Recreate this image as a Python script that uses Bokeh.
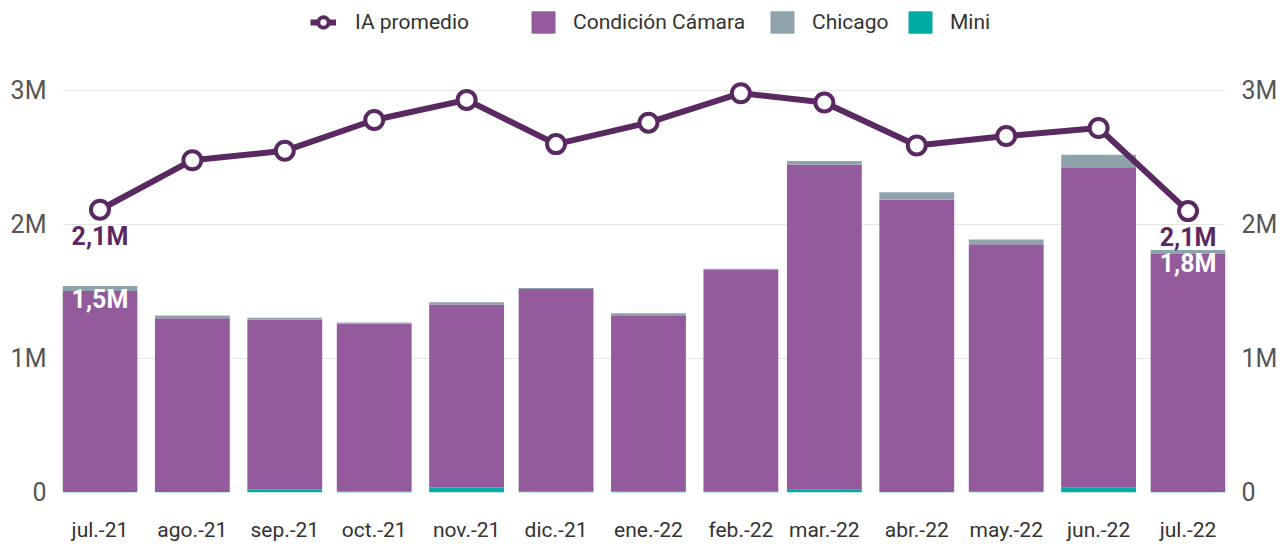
import pandas as pd
from bokeh.plotting import figure
from bokeh.models import (ColumnDataSource, Range1d, FixedTicker, LinearAxis,
                          Legend, LegendItem)
from bokeh.core.properties import value
from bokeh.embed import file_html
from bokeh.resources import INLINE

# ---------------- data ----------------
months = ["2021-07-01", "2021-08-01", "2021-09-01", "2021-10-01", "2021-11-01",
          "2021-12-01", "2022-01-01", "2022-02-01", "2022-03-01", "2022-04-01",
          "2022-05-01", "2022-06-01", "2022-07-01"]
month_labels = ["jul.-21", "ago.-21", "sep.-21", "oct.-21", "nov.-21", "dic.-21",
                "ene.-22", "feb.-22", "mar.-22", "abr.-22", "may.-22", "jun.-22",
                "jul.-22"]
mini = [3000, 4000, 22000, 7000, 37000, 6000, 6000, 6000, 20000, 12000, 5000, 35000, 4000]
camara = [1500000, 1296000, 1268000, 1252000, 1366000, 1513000, 1316000, 1657000,
          2428000, 2172000, 1848000, 2393000, 1776000]
chicago = [38000, 21000, 14000, 9000, 17000, 7000, 15000, 6000, 25000, 57000,
           35000, 92000, 30000]
ia_promedio = [2110000, 2480000, 2550000, 2780000, 2930000, 2600000, 2760000,
               2980000, 2910000, 2590000, 2660000, 2720000, 2100000]
y_ticks = [0, 1000000, 2000000, 3000000]
y_tick_labels = ["0", "1M", "2M", "3M"]

# ---------------- styling ----------------
C_CAM = "#935b9b"
C_CHI = "#8fa3ab"
C_MINI = "#00aba5"
C_LINE = "#5a2962"
FONT = "Roboto"

dates = pd.to_datetime(months)
DAY = 86400000
bar_w = 25.1 * DAY

bottom_cam = [m for m in mini]
top_cam = [m + c for m, c in zip(mini, camara)]
top_chi = [t + h for t, h in zip(top_cam, chicago)]

src = ColumnDataSource(dict(
    x=dates, mini=mini, top_cam=top_cam, top_chi=top_chi,
    bottom_cam=bottom_cam, ia=ia_promedio,
))

x_start = dates[0] - pd.Timedelta(days=12.56)
x_end = dates[-1] + pd.Timedelta(days=12.56)

W, H = 1280, 548
p = figure(width=W, height=H, x_axis_type="datetime",
           x_range=Range1d(x_start, x_end), y_range=Range1d(0, 3612000),
           output_backend="svg", toolbar_location=None,
           min_border_left=62, min_border_right=W - 1227, min_border_top=8,
           min_border_bottom=56)
p.outline_line_color = None
p.background_fill_color = "white"
p.border_fill_color = "white"

r_mini = p.vbar(x="x", top="mini", bottom=0, width=bar_w, source=src,
                fill_color=C_MINI, line_color=None)
r_cam = p.vbar(x="x", top="top_cam", bottom="bottom_cam", width=bar_w, source=src,
               fill_color=C_CAM, line_color=None)
r_chi = p.vbar(x="x", top="top_chi", bottom="top_cam", width=bar_w, source=src,
               fill_color=C_CHI, line_color=None)

r_line = p.line(x="x", y="ia", source=src, line_color=C_LINE, line_width=6)
r_pts = p.scatter(x="x", y="ia", source=src, size=18, marker="circle",
                  fill_color="white", line_color=C_LINE, line_width=4)

def fmt(v):
    return "{:.1f}M".format(v / 1e6).replace(".", ",")

ends = [0, len(months) - 1]
lab_src = ColumnDataSource(dict(
    x=[dates[i] for i in ends],
    ia=[ia_promedio[i] for i in ends],
    tot=[top_chi[i] for i in ends],
    ia_txt=[fmt(ia_promedio[i]) for i in ends],
    tot_txt=[fmt(top_chi[i]) for i in ends],
))
p.text(x="x", y="ia", text="ia_txt", source=lab_src, text_align="center",
       text_baseline="top", y_offset=12, text_color=C_LINE,
       text_font=value(FONT), text_font_size="25px", text_font_style="bold")
p.text(x="x", y="tot", text="tot_txt", source=lab_src, text_align="center",
       text_baseline="top", y_offset=-1, text_color="white",
       text_font=value(FONT), text_font_size="25px", text_font_style="bold")

# ---------------- axes ----------------
xticks = [int(d.value // 10**6) for d in dates]
p.xaxis.ticker = FixedTicker(ticks=xticks)
p.xaxis.major_label_overrides = {t: l for t, l in zip(xticks, month_labels)}
p.xaxis.axis_line_color = None
p.xaxis.major_tick_line_color = None
p.xaxis.minor_tick_line_color = None
p.xaxis.major_label_standoff = 19
p.xaxis.major_label_text_font = FONT
p.xaxis.major_label_text_font_size = "21px"
p.xaxis.major_label_text_color = "#333333"
p.xgrid.grid_line_color = None

yt = FixedTicker(ticks=y_ticks)
ov = {t: l for t, l in zip(y_ticks, y_tick_labels)}
p.yaxis.ticker = yt
p.yaxis.major_label_overrides = ov
p.ygrid.ticker = yt
p.ygrid.grid_line_color = "#e6e6e6"
p.ygrid.grid_line_width = 1

right = LinearAxis(ticker=yt, major_label_overrides=ov)
p.add_layout(right, "right")
for ax in (p.yaxis[0], right):
    ax.axis_line_color = None
    ax.major_tick_line_color = None
    ax.minor_tick_line_color = None
    ax.major_label_standoff = 10
    ax.major_label_text_font = FONT
    ax.major_label_text_font_size = "25px"
    ax.major_label_text_color = "#555555"

# ---------------- legends ----------------
def make_legend(label, renderers, x, gw, standoff):
    lg = Legend(items=[LegendItem(label=label, renderers=renderers)],
                location=(x, 456))
    lg.orientation = "horizontal"
    lg.background_fill_alpha = 0
    lg.border_line_alpha = 0
    lg.margin = 0
    lg.padding = 0
    lg.label_text_font = FONT
    lg.label_text_font_size = "21px"
    lg.label_text_color = "#333333"
    lg.label_height = 28
    lg.glyph_width = gw
    lg.glyph_height = 28
    lg.label_standoff = standoff
    p.add_layout(lg, "center")

make_legend("IA promedio", [r_line, r_pts], 248, 26, 19)
make_legend("Condición Cámara", [r_cam], 466, 30, 15)
make_legend("Chicago", [r_chi], 705, 30, 15)
make_legend("Mini", [r_mini], 843, 30, 15)

open("out.html", "w").write(file_html(p, INLINE))
